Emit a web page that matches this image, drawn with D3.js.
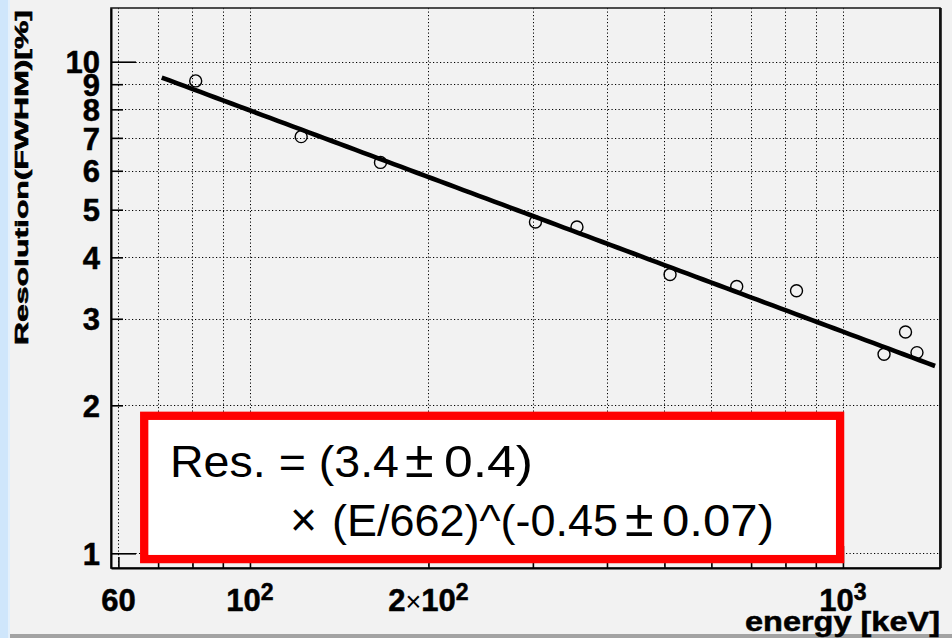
<!DOCTYPE html>
<html>
<head>
<meta charset="utf-8">
<script src="https://cdn.jsdelivr.net/npm/d3@7"></script>
<style>
  html, body { margin: 0; padding: 0; background: #f2f2f2; }
  svg { display: block; }
  text { font-family: "Liberation Sans", Arial, Helvetica, sans-serif; }
</style>
</head>
<body>
<svg id="chart" width="952" height="638"></svg>
<script>
// Measured energy resolution of the detector (FWHM, %) at calibration gamma lines
const energies    = [81, 122, 166, 303, 356, 511, 662, 835, 1173, 1275, 1333];
const resolutions = [9.14, 7.04, 6.24, 4.72, 4.61, 3.69, 3.49, 3.42, 2.54, 2.82, 2.56];

// Power-law fit: Res = A * (E / E0)^B
const fitNorm  = 3.4;
const fitIndex = -0.45;
const fitRef   = 662;
const fitRange = [71, 1430];

// Axis ranges, grid and tick labels
const xDomain = [58.3, 1457.7];
const yDomain = [0.9335, 12.86];
const xGridValues = [60, 70, 80, 90, 100, 200, 300, 400, 500, 600, 700, 800, 900, 1000];
const yGridValues = [1, 2, 3, 4, 5, 6, 7, 8, 9, 10];
const xMajorValues = [100, 1000];
const yMajorValues = [1, 10];
const xTickLabels = [
  { value: 60,   base: "60",  mult: "",  sup: "" },
  { value: 100,  base: "10",  mult: "",  sup: "2" },
  { value: 200,  base: "10",  mult: "2", sup: "2" },
  { value: 1000, base: "10",  mult: "",  sup: "3" }
];
const yTickLabels = ["1", "2", "3", "4", "5", "6", "7", "8", "9", "10"];

const W = 952, H = 638;
const frame = { left: 111, right: 940, top: 8, bottom: 568 };

const svg = d3.select("#chart");

// Canvas background with the window edge on the left and bottom
svg.append("rect").attr("width", W).attr("height", H).attr("fill", "#f2f2f2");
svg.append("rect").attr("x", 0).attr("y", 0).attr("width", 8).attr("height", H).attr("fill", "#cfe6fb");
svg.append("rect").attr("x", 8).attr("y", 0).attr("width", 2).attr("height", H).attr("fill", "#e4f0fb");
svg.append("rect").attr("x", 10).attr("y", 634).attr("width", W - 10).attr("height", 4).attr("fill", "#a3a3a3");

const x = d3.scaleLog().domain(xDomain).range([frame.left, frame.right]);
const y = d3.scaleLog().domain(yDomain).range([frame.bottom, frame.top]);

// Dotted grid
const grid = svg.append("g")
  .attr("stroke", "#000").attr("stroke-width", 1)
  .attr("stroke-dasharray", "1.2 2.3").attr("fill", "none");
grid.selectAll("line.gx").data(xGridValues).join("line")
  .attr("class", "gx")
  .attr("x1", d => Math.round(x(d)) + 0.5).attr("x2", d => Math.round(x(d)) + 0.5)
  .attr("y1", frame.top).attr("y2", frame.bottom);
grid.selectAll("line.gy").data(yGridValues).join("line")
  .attr("class", "gy")
  .attr("y1", d => Math.round(y(d)) + 0.5).attr("y2", d => Math.round(y(d)) + 0.5)
  .attr("x1", frame.left).attr("x2", frame.right);

// Frame
svg.append("rect")
  .attr("x", frame.left).attr("y", frame.top)
  .attr("width", frame.right - frame.left).attr("height", frame.bottom - frame.top)
  .attr("fill", "none").attr("stroke", "#222").attr("stroke-width", 1.6);
svg.append("line")
  .attr("x1", frame.right + 0.5).attr("x2", frame.right + 0.5)
  .attr("y1", frame.top).attr("y2", frame.bottom)
  .attr("stroke", "#111").attr("stroke-width", 2.6);

// Y axis (ticks point into the frame)
const yAxis = d3.axisLeft(y)
  .tickValues(yGridValues)
  .tickSizeInner(-12).tickSizeOuter(0)
  .tickPadding(11)
  .tickFormat((d, i) => yTickLabels[i]);
const gy = svg.append("g").attr("transform", `translate(${frame.left},0)`).call(yAxis);
gy.select(".domain").attr("stroke", "#000").attr("stroke-width", 2);
gy.selectAll(".tick line").attr("stroke", "#000").attr("stroke-width", 1.6)
  .attr("x2", d => yMajorValues.includes(d) ? 25 : 12);
gy.selectAll(".tick text")
  .attr("fill", "#000").attr("font-size", 31).attr("font-weight", "bold")
  .attr("x", -11).attr("dy", "0.36em")
  .attr("stroke", "#000").attr("stroke-width", 0.5)
  .style("font-family", '"Liberation Sans", Arial, sans-serif');

// X axis (ticks point into the frame, labels drawn separately)
const xAxis = d3.axisBottom(x)
  .tickValues(xGridValues)
  .tickSizeInner(-11).tickSizeOuter(0)
  .tickFormat("");
const gx = svg.append("g").attr("transform", `translate(0,${frame.bottom})`).call(xAxis);
gx.select(".domain").attr("stroke", "#000").attr("stroke-width", 2);
gx.selectAll(".tick line").attr("stroke", "#000").attr("stroke-width", 1.6)
  .attr("y2", d => xMajorValues.includes(d) ? -22 : -11);

const xl = svg.append("g").selectAll("text").data(xTickLabels).join("text")
  .attr("x", d => x(d.value)).attr("y", 611)
  .attr("text-anchor", "middle")
  .attr("font-size", 31).attr("font-weight", "bold").attr("fill", "#000")
  .attr("stroke", "#000").attr("stroke-width", 0.5);
xl.each(function (d) {
  const t = d3.select(this);
  if (d.mult) {
    t.append("tspan").text(d.mult);
    t.append("tspan").text("×").attr("font-weight", "normal").attr("font-size", 27)
      .attr("stroke-width", 0);
  }
  t.append("tspan").text(d.base);
  if (d.sup) t.append("tspan").text(d.sup).attr("font-size", 23).attr("dy", -11);
});

// Axis titles
svg.append("text")
  .attr("transform", "translate(27.5,10) rotate(-90)")
  .attr("text-anchor", "end")
  .attr("font-size", 19).attr("font-weight", "bold").attr("fill", "#000")
  .attr("stroke", "#000").attr("stroke-width", 0.6)
  .attr("textLength", 335).attr("lengthAdjust", "spacingAndGlyphs")
  .text("Resolution(FWHM)[%]");
svg.append("text")
  .attr("x", 745).attr("y", 631)
  .attr("font-size", 28).attr("font-weight", "bold").attr("fill", "#000")
  .attr("stroke", "#000").attr("stroke-width", 0.5)
  .attr("textLength", 195).attr("lengthAdjust", "spacingAndGlyphs")
  .text("energy [keV]");

// Data points
const points = energies.map((e, i) => ({ e, r: resolutions[i] }));
svg.append("g").selectAll("circle").data(points).join("circle")
  .attr("cx", d => x(d.e)).attr("cy", d => y(d.r)).attr("r", 6)
  .attr("fill", "none").attr("stroke", "#000").attr("stroke-width", 1.4);

// Fit curve
const fitFn = e => fitNorm * Math.pow(e / fitRef, fitIndex);
const logE = d3.range(0, 101).map(i =>
  Math.pow(10, Math.log10(fitRange[0]) + i / 100 * (Math.log10(fitRange[1]) - Math.log10(fitRange[0]))));
const line = d3.line().x(e => x(e)).y(e => y(fitFn(e)));
svg.append("path").datum(logE)
  .attr("d", line)
  .attr("fill", "none").attr("stroke", "#000").attr("stroke-width", 4.6)
  .attr("stroke-linecap", "butt");

// Fit result box
svg.append("rect")
  .attr("x", 144.2).attr("y", 415.8).attr("width", 695.9).attr("height", 143.3)
  .attr("fill", "#fff").attr("stroke", "#ff0000").attr("stroke-width", 8.3);

// Fit result text, one piece per text run so each keeps its own width
const fitPieces = [
  { text: `Res. = (${fitNorm.toFixed(1)}`,           x: 170, y: 476.7, len: 229,  size: 45 },
  { text: "±",                                        x: 405, y: 477,   len: null, size: 52 },
  { text: "0.4)",                                     x: 444, y: 476.7, len: 89,   size: 45 },
  { text: "×",                                        x: 290, y: 536,   len: 27,   size: 48 },
  { text: `(E/${fitRef})^(${fitIndex.toFixed(2)}`,    x: 332, y: 535.7, len: 286,  size: 45 },
  { text: "±",                                        x: 625, y: 536,   len: null, size: 52 },
  { text: "0.07)",                                    x: 662, y: 535.7, len: 112,  size: 45 }
];
const ft = svg.append("g").selectAll("text").data(fitPieces).join("text")
  .attr("x", d => d.x).attr("y", d => d.y)
  .attr("font-size", d => d.size).attr("fill", "#000")
  .text(d => d.text);
ft.filter(d => d.len !== null)
  .attr("textLength", d => d.len).attr("lengthAdjust", "spacingAndGlyphs");
</script>
</body>
</html>
